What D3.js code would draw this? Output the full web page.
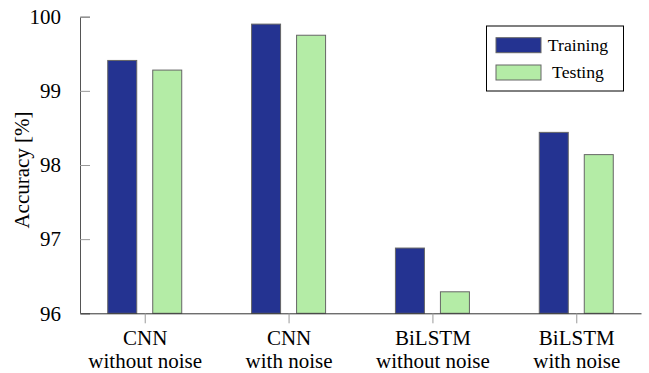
<!DOCTYPE html>
<html>
<head>
<meta charset="utf-8">
<script src="https://cdn.jsdelivr.net/npm/d3@7"></script>
<style>
  body { margin: 0; background: #fff; }
  svg text { font-family: "Liberation Serif", "Tinos", "Nimbus Roman", "Times New Roman", "DejaVu Serif", serif; fill: #000; }
</style>
</head>
<body>
<div id="chart"></div>
<script>
// data
var models = ["CNN|without noise", "CNN|with noise", "BiLSTM|without noise", "BiLSTM|with noise"];
var training = [99.41, 99.90, 96.88, 98.44];
var testing = [99.28, 99.75, 96.29, 98.14];
var yTicks = [96, 97, 98, 99, 100];
var seriesNames = ["Training", "Testing"];

var colors = ["#243391", "#b4eca6"];
var serif = '"Liberation Serif", "Tinos", "Nimbus Roman", "Times New Roman", "DejaVu Serif", serif';

var width = 649, height = 373;

var svg = d3.select("#chart").append("svg")
    .attr("width", width)
    .attr("height", height)
    .attr("font-family", serif);

// scales
var x = d3.scalePoint()
    .domain(models)
    .range([80, 641])
    .padding(0.45);

var y = d3.scaleLinear()
    .domain([96, 100])
    .range([313.3, 16.7]);

var barW = 29, offset = 22.5;

// bars
var series = [training, testing];
series.forEach(function(vals, s) {
  svg.append("g")
    .selectAll("rect")
    .data(vals)
    .enter().append("rect")
      .attr("x", function(d, i) { return x(models[i]) + (s === 0 ? -offset : offset) - barW / 2; })
      .attr("y", function(d) { return y(d); })
      .attr("width", barW)
      .attr("height", function(d) { return y(96) - y(d); })
      .attr("fill", colors[s])
      .attr("stroke", "#666")
      .attr("stroke-width", 1);
});

// y axis
var yAxis = svg.append("g")
    .attr("transform", "translate(80,0)")
    .call(d3.axisLeft(y).tickValues(yTicks).tickSize(-10).tickPadding(19).tickFormat(d3.format("d")));
yAxis.attr("font-family", serif);
yAxis.select(".domain").attr("stroke", "#555");
yAxis.selectAll(".tick line").attr("stroke", "#999");
yAxis.selectAll("text")
    .style("font-family", serif)
    .style("font-size", "21px")
    .attr("fill", "#000");

// x axis
var xAxis = svg.append("g")
    .attr("transform", "translate(0," + y(96) + ")")
    .call(d3.axisBottom(x).tickSize(10).tickSizeOuter(0).tickFormat(""));
xAxis.attr("font-family", serif);
xAxis.select(".domain").attr("stroke", "#333");
xAxis.selectAll(".tick line").attr("stroke", "#999");

// two-line category labels
xAxis.selectAll(".tick").each(function(d) {
  var parts = d.split("|");
  var t = d3.select(this).append("text")
      .attr("text-anchor", "middle")
      .style("font-family", serif)
      .style("font-size", "21px");
  t.append("tspan").attr("x", 0).attr("y", 32).text(parts[0]);
  t.append("tspan").attr("x", 0).attr("y", 55).text(parts[1]);
});

// y axis title
svg.append("text")
    .attr("transform", "translate(29,170) rotate(-90)")
    .attr("text-anchor", "middle")
    .style("font-family", serif)
    .style("font-size", "21px")
    .text("Accuracy [%]");

// legend
var legend = svg.append("g");
legend.append("rect")
    .attr("x", 486.5).attr("y", 26)
    .attr("width", 137).attr("height", 65)
    .attr("fill", "#fff")
    .attr("stroke", "#000");

seriesNames.forEach(function(name, i) {
  legend.append("rect")
      .attr("x", 496).attr("y", 37.7 + i * 27.3)
      .attr("width", 45).attr("height", 15)
      .attr("fill", colors[i])
      .attr("stroke", "#666");
  legend.append("text")
      .attr("x", 578).attr("y", 51 + i * 27)
      .attr("text-anchor", "middle")
      .style("font-family", serif)
      .style("font-size", "17.7px")
      .text(name);
});
</script>
</body>
</html>
